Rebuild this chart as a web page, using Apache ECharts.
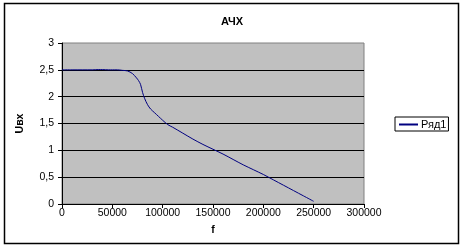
<!DOCTYPE html>
<html><head><meta charset="utf-8">
<script src="https://cdn.jsdelivr.net/npm/echarts@6/dist/echarts.min.js"></script>
<style>html,body{margin:0;padding:0;background:#fff}#c{width:464px;height:248px}</style>
</head><body><div id="c"></div>
<script>
const freq = [0, 10000, 20000, 30000, 36000, 40000, 46000, 50000, 55000, 60000, 65000, 70000, 74000, 76000, 78000, 80000, 82000, 85000, 88000, 92000, 96000, 100000, 105000, 110000, 120000, 130000, 140000, 150000, 160000, 170000, 180000, 190000, 200000, 210000, 220000, 230000, 240000, 250000];
const uvx  = [2.5, 2.5, 2.5, 2.5, 2.505, 2.505, 2.5, 2.5, 2.5, 2.49, 2.48, 2.43, 2.35, 2.30, 2.23, 2.08, 1.97, 1.85, 1.77, 1.70, 1.63, 1.56, 1.48, 1.43, 1.32, 1.21, 1.11, 1.02, 0.93, 0.83, 0.73, 0.64, 0.55, 0.45, 0.35, 0.25, 0.15, 0.05];
const seriesName = 'Ряд1';
const titleText = 'АЧХ';
const chart = echarts.init(document.getElementById('c'));
const font = 'Liberation Sans, Arial, sans-serif';
chart.setOption({
  animation: false,
  title: {text: titleText, left: 'center', top: 11, textStyle: {fontFamily: font, fontSize: 11, fontWeight: 'bold', color: '#000'}},
  grid: {left: 62, top: 43, right: 100, bottom: 44, show: true, backgroundColor: '#c0c0c0', borderColor: '#808080', borderWidth: 1},
  legend: {
    left: 395, top: 117, orient: 'vertical', borderColor: '#000', borderWidth: 1, padding: [2, 2, 1, 4],
    itemWidth: 19, itemHeight: 2, itemGap: 0, icon: 'rect',
    textStyle: {fontFamily: font, fontSize: 11, color: '#000', padding: [0, 0, 0, -2]},
    data: [{name: seriesName, itemStyle: {color: '#000080'}}]
  },
  xAxis: {
    type: 'value', min: 0, max: 300000, interval: 50000,
    name: 'f', nameLocation: 'middle', nameGap: 21,
    nameTextStyle: {fontFamily: font, fontSize: 10.5, fontWeight: 'bold', color: '#000'},
    axisLine: {lineStyle: {color: '#000', width: 1}},
    axisTick: {show: true, length: 4, lineStyle: {color: '#000'}},
    axisLabel: {fontFamily: font, fontSize: 10.5, color: '#000', margin: 4, formatter: v => String(v)},
    splitLine: {show: false}
  },
  yAxis: {
    type: 'value', min: 0, max: 3, interval: 0.5,
    name: 'Uвх', nameLocation: 'middle', nameGap: 36,
    nameTextStyle: {fontFamily: font, fontSize: 10.5, fontWeight: 'bold', color: '#000'},
    axisLine: {show: true, lineStyle: {color: '#000', width: 1}},
    axisTick: {show: true, length: 4, lineStyle: {color: '#000'}},
    axisLabel: {fontFamily: font, fontSize: 10.5, color: '#000', margin: 8, formatter: v => String(v).replace('.', ',')},
    splitLine: {show: true, showMaxLine: false, lineStyle: {color: '#000', width: 1}}
  },
  series: [{
    name: seriesName, type: 'line', showSymbol: false, symbol: 'none', smooth: 0.3,
    lineStyle: {color: '#000080', width: 1},
    itemStyle: {color: '#000080'},
    data: freq.map((f, i) => [f, uvx[i]])
  }],
  graphic: [{type: 'rect', shape: {x: 4.5, y: 3.5, width: 454, height: 240}, style: {fill: 'none', stroke: '#000', lineWidth: 1.5}, silent: true}]
});
</script></body></html>
